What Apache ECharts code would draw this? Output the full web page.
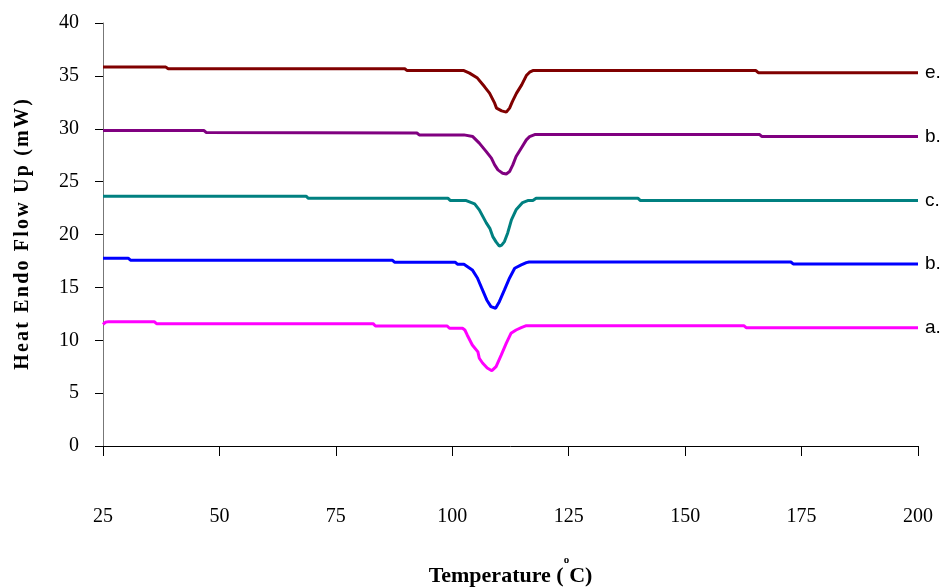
<!DOCTYPE html>
<html>
<head>
<meta charset="utf-8">
<script src="https://cdn.jsdelivr.net/npm/echarts@6/dist/echarts.min.js"></script>
<style>
  html, body { margin: 0; padding: 0; background: #ffffff; }
  #chart { width: 945px; height: 587px; }
</style>
</head>
<body>
<div id="chart"></div>
<script>
// DSC heating curves: [temperature (°C), heat flow (mW)]
const sampleA = [
  [25, 11.5], [25.5, 11.7], [26.2, 11.76], [36.0, 11.76], [36.5, 11.57],
  [83.0, 11.57], [83.5, 11.35], [98.9, 11.35], [99.4, 11.13], [102.2, 11.13],
  [102.7, 10.97], [103.2, 10.5], [104.3, 9.55], [105.5, 8.9], [105.8, 8.3],
  [106.5, 7.85], [107.5, 7.38], [108.5, 7.12], [109.4, 7.5], [110.5, 8.6],
  [111.6, 9.72], [112.6, 10.66], [113.7, 10.97], [114.8, 11.19], [115.9, 11.38],
  [162.6, 11.38], [163.1, 11.19], [200, 11.19]
];
const sampleB1 = [
  [25, 17.76], [30.4, 17.76], [30.9, 17.57], [87.1, 17.57], [87.6, 17.38],
  [100.6, 17.38], [101.1, 17.19], [102.5, 17.19], [104.3, 16.65], [105.4, 15.89],
  [106.3, 14.95], [107.4, 13.81], [108.3, 13.18], [109.3, 13.03], [110.1, 13.65],
  [111.2, 14.76], [112.3, 15.89], [113.4, 16.81], [114.8, 17.12], [115.9, 17.34],
  [116.5, 17.4], [172.7, 17.4], [173.2, 17.22], [200, 17.22]
];
const sampleC = [
  [25, 23.62], [68.6, 23.62], [69.1, 23.42], [99.1, 23.42], [99.6, 23.21],
  [103.0, 23.21], [104.8, 22.9], [105.8, 22.33], [107.3, 21.1], [108.1, 20.55],
  [108.7, 19.8], [109.4, 19.3], [110.1, 18.9], [110.6, 19.0], [111.2, 19.33],
  [111.9, 20.15], [112.7, 21.38], [113.7, 22.33], [115.1, 23.02], [116.2, 23.21],
  [117.3, 23.21], [118.0, 23.42], [139.9, 23.42], [140.4, 23.21], [200, 23.21]
];
const sampleB2 = [
  [25, 29.83], [46.7, 29.83], [47.2, 29.64], [92.4, 29.6], [92.9, 29.42],
  [102.5, 29.42], [104.4, 29.26], [105.8, 28.64], [107.3, 27.84], [108.4, 27.22],
  [109.1, 26.58], [109.8, 26.11], [110.8, 25.8], [111.6, 25.73], [112.3, 25.95],
  [113.0, 26.58], [113.7, 27.37], [114.8, 28.16], [115.9, 28.95], [116.6, 29.26],
  [117.7, 29.45], [166.0, 29.45], [166.5, 29.26], [200, 29.26]
];
const sampleE = [
  [25, 35.83], [38.5, 35.83], [39.0, 35.67], [89.8, 35.67], [90.3, 35.5],
  [102.5, 35.5], [103.7, 35.26], [105.4, 34.79], [106.9, 33.99], [108.0, 33.37],
  [109.1, 32.42], [109.5, 31.95], [110.6, 31.69], [111.6, 31.57], [112.3, 31.95],
  [112.9, 32.57], [113.8, 33.37], [114.9, 34.15], [115.9, 35.03], [116.6, 35.35],
  [117.3, 35.5], [165.2, 35.5], [165.7, 35.3], [200, 35.3]
];

const curveLabels = ['a.', 'b.', 'c.', 'b.', 'e.'];
const curveData = [sampleA, sampleB1, sampleC, sampleB2, sampleE];
const curveColors = ['#ff00ff', '#0000ff', '#008080', '#800080', '#800000'];

const yTitle = 'Heat Endo Flow Up (mW)';

const serif = '"Liberation Serif", "Times New Roman", serif';

// the y title is set letter by letter so each glyph gets a little tracking
const yTitleRich = yTitle.split('').map(ch => '{c|' + ch + '}').join('');

const chart = echarts.init(document.getElementById('chart'), null, { renderer: 'canvas' });

chart.setOption({
  backgroundColor: '#ffffff',
  animation: false,
  grid: {
    left: 103, right: 27, top: 23, bottom: 141,
    containLabel: false,
    outerBoundsMode: 'none'
  },
  xAxis: {
    type: 'value',
    min: 25,
    max: 200,
    interval: 25,
    name: '{t|Temperature (}{s|o}{t|C)}',
    nameLocation: 'middle',
    nameGap: 109,
    nameTextStyle: {
      rich: {
        t: { fontFamily: serif, fontWeight: 'bold', fontSize: 22, color: '#000' },
        s: { fontFamily: serif, fontWeight: 'bold', fontSize: 11, color: '#000', padding: [0, 0, 32, 0] }
      }
    },
    axisLine: { show: true, lineStyle: { color: '#000', width: 1 } },
    axisTick: { show: true, length: 10, lineStyle: { color: '#000' } },
    axisLabel: { margin: 61, fontFamily: serif, fontSize: 20, color: '#000' },
    splitLine: { show: false }
  },
  yAxis: {
    type: 'value',
    min: 0,
    max: 40,
    interval: 5,
    name: yTitleRich,
    nameLocation: 'middle',
    nameGap: 70,
    nameTextStyle: {
      rich: {
        c: { fontFamily: serif, fontWeight: 'bold', fontSize: 20, color: '#000', padding: [0, 1.1, 0, 1.1] }
      }
    },
    axisLine: { show: true, lineStyle: { color: '#777', width: 1 } },
    axisTick: { show: true, length: 8, lineStyle: { color: '#000' } },
    axisLabel: { margin: 24, fontFamily: serif, fontSize: 20, color: '#000' },
    splitLine: { show: false }
  },
  series: curveData.map((d, i) => ({
    type: 'line',
    name: curveLabels[i] + ' ' + i,
    data: d,
    showSymbol: false,
    symbol: 'none',
    lineStyle: { color: curveColors[i], width: 3 },
    itemStyle: { color: curveColors[i] },
    endLabel: {
      show: true,
      formatter: curveLabels[i],
      distance: 7,
      color: '#000',
      fontFamily: '"Liberation Sans", Arial, sans-serif',
      fontSize: 19
    },
    z: 2 + i
  }))
});
</script>
</body>
</html>
